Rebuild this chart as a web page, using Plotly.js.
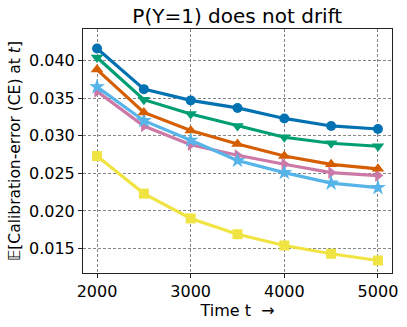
<!DOCTYPE html>
<html>
<head>
<meta charset="utf-8">
<script src="https://cdn.plot.ly/plotly-3.0.1.min.js"></script>
<style>
  html, body { margin: 0; padding: 0; background: #fff; }
  #chart { width: 407px; height: 327px; }
</style>
</head>
<body>
<div id="chart"></div>
<script>
// time steps
let times = [2000, 2500, 3000, 3500, 4000, 4500, 5000];

// expected calibration error per method
let blueCE   = [0.0416, 0.0362, 0.0347, 0.0337, 0.0323, 0.0313, 0.0309];
let greenCE  = [0.0404, 0.0348, 0.0329, 0.0313, 0.0298, 0.0290, 0.0286];
let orangeCE = [0.0388, 0.0331, 0.0307, 0.0289, 0.0273, 0.0262, 0.0256];
let skyCE    = [0.0365, 0.0320, 0.0294, 0.0267, 0.0251, 0.0237, 0.0231];
let pinkCE   = [0.0359, 0.0313, 0.0288, 0.0274, 0.0262, 0.0251, 0.0247];
let yellowCE = [0.0273, 0.0223, 0.0190, 0.0169, 0.0154, 0.0143, 0.0134];

function line(y, color, symbol, size){
  return {
    x: times,
    y: y,
    type: 'scatter',
    mode: 'lines+markers',
    line: {color: color, width: 3.2},
    marker: {color: color, symbol: symbol, size: size},
    showlegend: false
  };
}

let traces = [
  line(yellowCE, '#F0E442', 'square', 10),
  line(pinkCE, '#CC79A7', 'triangle-right', 11),
  line(skyCE, '#56B4E9', 'star', 12),
  line(orangeCE, '#D55E00', 'triangle-up', 11),
  line(greenCE, '#009E73', 'triangle-down', 11),
  line(blueCE, '#0072B2', 'circle', 10)
];

let axisBase = {
  showline: true,
  mirror: true,
  linecolor: '#222',
  linewidth: 1,
  ticks: 'outside',
  ticklen: 4,
  tickcolor: '#222',
  showgrid: true,
  gridcolor: '#666',
  griddash: '3px,2px',
  gridwidth: 0.8,
  zeroline: false,
  tickfont: {size: 16, color: '#000'}
};

let layout = {
  width: 407,
  height: 327,
  margin: {l: 83, r: 15, t: 29, b: 54},
  paper_bgcolor: '#fff',
  plot_bgcolor: '#fff',
  font: {family: 'DejaVu Sans', color: '#000'},
  title: {
    text: 'P(Y=1) does not drift',
    font: {size: 20},
    x: 0.583, xanchor: 'center',
    y: 0.952, yanchor: 'middle'
  },
  xaxis: Object.assign({}, axisBase, {
    range: [1850, 5150],
    tickvals: [2000, 3000, 4000, 5000],
    title: {text: 'Time t  →', font: {size: 16}, standoff: 2}
  }),
  yaxis: Object.assign({}, axisBase, {
    range: [0.01174, 0.0442],
    tickvals: [0.015, 0.020, 0.025, 0.030, 0.035, 0.040],
    tickformat: '.3f',
    title: {text: '𝔼[Calibration-error (CE) at <i>t</i>]', font: {size: 15.5}, standoff: 4}
  })
};

Plotly.newPlot('chart', traces, layout, {staticPlot: true, displayModeBar: false});
</script>
</body>
</html>
